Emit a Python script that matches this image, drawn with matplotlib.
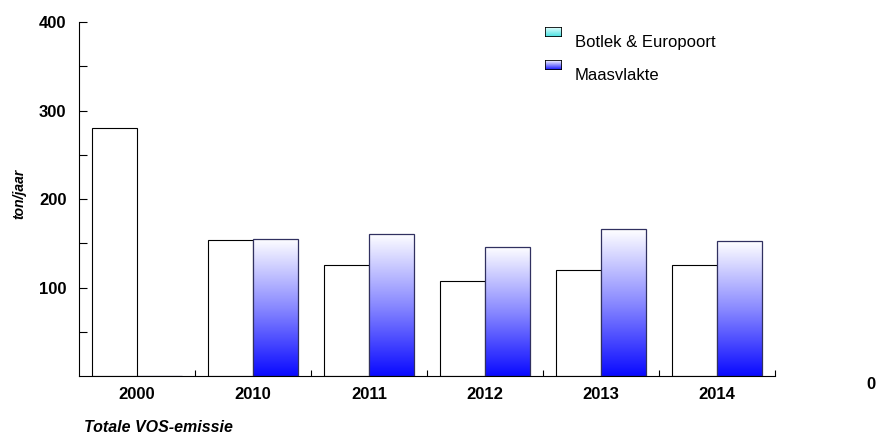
import numpy as np
import matplotlib.pyplot as plt
from matplotlib.colors import LinearSegmentedColormap
from matplotlib.patches import Rectangle

plt.rcParams['font.family'] = ['Liberation Sans', 'DejaVu Sans']

# jaartallen en emissies (ton/jaar)
jaren = ['2000', '2010', '2011', '2012', '2013', '2014']
botlek = [280, 154, 125, 107, 120, 126]
maasvlakte = [0, 155, 161, 146, 166, 152]

fig = plt.figure(figsize=(8.76, 4.34), dpi=100)
ax = fig.add_axes([0.0902, 0.1336, 0.7945, 0.8157])

x = np.arange(len(jaren)) + 0.5
w = 0.39

ax.bar(x - w / 2, botlek, w, color='white', edgecolor='black', linewidth=0.8, zorder=2)

# verloop van wit (boven) naar blauw (onder) per staaf
blauw = LinearSegmentedColormap.from_list('blauw', ['#0a0aff', '#8a8aff', '#ffffff'])
grad = np.linspace(0, 1, 256).reshape(-1, 1)
bars = ax.bar(x + w / 2, maasvlakte, w, color='none', edgecolor='#303060', linewidth=0.9, zorder=3)
for b, v in zip(bars, maasvlakte):
    if v <= 0:
        continue
    x0 = b.get_x()
    im = ax.imshow(grad, cmap=blauw, aspect='auto', origin='lower',
                   extent=(x0, x0 + w, 0, v), zorder=2)
    im.set_clip_path(b)

ax.set_xlim(0, 6)
ax.set_ylim(0, 400)
ax.set_yticks([100, 200, 300, 400])
ax.set_yticks([50, 150, 250, 350], minor=True)
ax.set_xticks(x)
ax.set_xticklabels(jaren, fontweight='bold', fontsize=12)
ax.set_xticks([1, 2, 3, 4, 5, 6], minor=True)
ax.tick_params(axis='x', which='major', length=0, pad=8)
ax.tick_params(axis='x', which='minor', direction='in', length=4, width=0.8)
ax.tick_params(axis='y', which='both', direction='in', length=6, width=0.8, labelsize=12)
for t in ax.get_yticklabels():
    t.set_fontweight('bold')
ax.tick_params(axis='y', pad=9)

for s in ['top', 'right']:
    ax.spines[s].set_visible(False)
ax.spines['left'].set_linewidth(0.8)
ax.spines['bottom'].set_linewidth(0.8)

fig.text(0.0217, 0.553, 'ton/jaar', fontsize=10, fontweight='bold', fontstyle='italic',
         rotation=90, ha='center', va='center')
fig.text(0.096, 0.016, 'Totale VOS-emissie', fontsize=11.5, fontweight='bold',
         fontstyle='italic', va='center')
fig.text(0.9886, 0.113, '0', fontsize=12, fontweight='bold', ha='left', va='center')

# legenda met kleine verloopvlakjes
cyaan = LinearSegmentedColormap.from_list('cyaan', ['#40e0e0', '#e8ffff'])
legenda = [('Botlek & Europoort', cyaan, 0.915, 0.901),
           ('Maasvlakte', blauw, 0.839, 0.827)]
for naam, cmap, y0, yt in legenda:
    lax = fig.add_axes([0.622, y0, 0.0194, 0.023])
    lax.imshow(grad, cmap=cmap, aspect='auto', origin='lower', extent=(0, 1, 0, 1))
    lax.add_patch(Rectangle((0, 0), 1, 1, fill=False, edgecolor='black', linewidth=1.2))
    lax.set_xlim(0, 1)
    lax.set_ylim(0, 1)
    lax.axis('off')
    fig.text(0.656, yt, naam, fontsize=12, va='center')

fig.savefig('out.png', dpi=100)
